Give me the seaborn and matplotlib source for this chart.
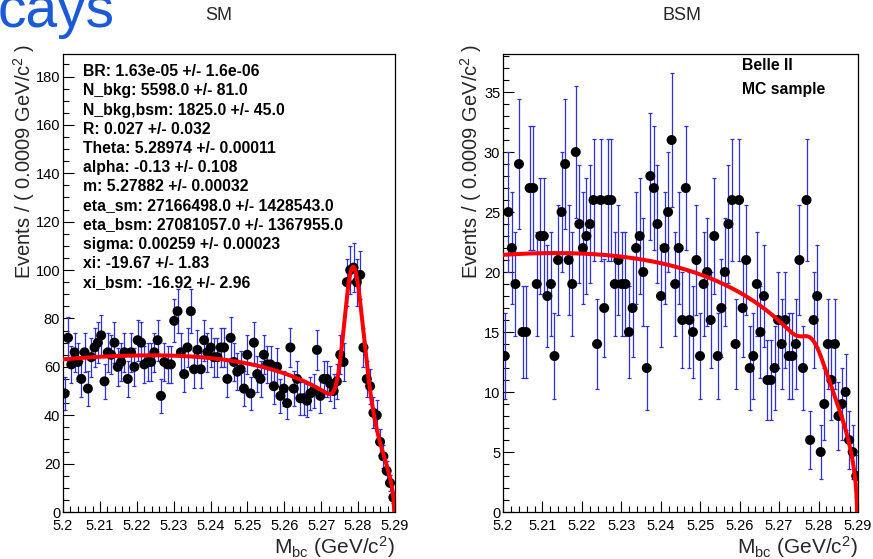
import numpy as np
import pandas as pd
import matplotlib
matplotlib.use("Agg")
import matplotlib.pyplot as plt
from matplotlib.ticker import FixedLocator, MultipleLocator
import seaborn as sns

# ---------------------------------------------------------------- binning
M_LO, M_HI, N_BINS = 5.2, 5.29, 100

# ---------------------------------------------------------------- data (events per bin)
sm_counts = [
    49, 72, 61, 66, 62, 55, 66, 51, 64, 68,
    70, 73, 54, 66, 65, 70, 60, 62, 66, 55,
    66, 60, 71, 70, 61, 62, 62, 66, 71, 48,
    62, 61, 61, 79, 83, 66, 57, 68, 83, 59,
    67, 59, 71, 66, 68, 64, 64, 68, 68, 55,
    72, 62, 58, 59, 51, 65, 49, 70, 57, 55,
    65, 61, 61, 52, 60, 48, 51, 45, 68, 51,
    55, 47, 47, 46, 49, 50, 67, 48, 55, 55,
    53, 50, 54, 65, 62, 95, 100, 101, 95, 98,
    68, 55, 52, 41, 40, 29, 23, 17, 12, 6,
]
bsm_counts = [
    13, 25, 22, 19, 29, 15, 15, 27, 27, 19,
    23, 23, 18, 19, 13, 21, 25, 29, 21, 19,
    30, 24, 22, 23, 24, 26, 14, 26, 17, 26,
    26, 19, 21, 19, 19, 15, 17, 22, 23, 20,
    12, 28, 27, 24, 18, 22, 25, 31, 19, 22,
    16, 27, 16, 15, 21, 13, 19, 20, 16, 23,
    13, 17, 20, 24, 26, 14, 26, 17, 21, 12,
    13, 19, 15, 18, 11, 11, 12, 16, 14, 16,
    13, 13, 14, 21, 12, 26, 6, 16, 18, 5,
    9, 14, 11, 14, 8, 9, 10, 6, 5, 3,
]

# ---------------------------------------------------------------- fit results
BR = 1.63e-05
N_BKG = 5598.0
N_BKG_BSM = 1825.0
R = 0.027
THETA = 5.28974
ALPHA = -0.13
M_PEAK = 5.27882
ETA_SM = 27166498.0
ETA_BSM = 27081057.0
SIGMA = 0.00259
XI = -19.67
XI_BSM = -16.92

fit_lines = [
    "BR: 1.63e-05 +/- 1.6e-06",
    "N_bkg: 5598.0 +/- 81.0",
    "N_bkg,bsm: 1825.0 +/- 45.0",
    "R: 0.027 +/- 0.032",
    "Theta: 5.28974 +/- 0.00011",
    "alpha: -0.13 +/- 0.108",
    "m: 5.27882 +/- 0.00032",
    "eta_sm: 27166498.0 +/- 1428543.0",
    "eta_bsm: 27081057.0 +/- 1367955.0",
    "sigma: 0.00259 +/- 0.00023",
    "xi: -19.67 +/- 1.83",
    "xi_bsm: -16.92 +/- 2.96",
]
label_lines = ["Belle II", "MC sample"]

x_ticks = [5.2, 5.21, 5.22, 5.23, 5.24, 5.25, 5.26, 5.27, 5.28, 5.29]
x_tick_labels = ["5.2", "5.21", "5.22", "5.23", "5.24", "5.25", "5.26", "5.27", "5.28", "5.29"]
sm_y_ticks = [0, 20, 40, 60, 80, 100, 120, 140, 160, 180]
bsm_y_ticks = [0, 5, 10, 15, 20, 25, 30, 35]


# ---------------------------------------------------------------- model shapes
def argus(x, m0, c):
    z = 1.0 - (x / m0) ** 2
    out = np.zeros_like(x)
    ok = z > 0
    out[ok] = x[ok] * np.sqrt(z[ok]) * np.exp(c * z[ok])
    return out


def novosibirsk(x, peak, width, tail):
    arg = 1.0 - (x - peak) * tail / width
    out = np.zeros_like(x)
    ok = arg > 1e-7
    lg = np.log(arg[ok])
    xi = 2.3548200450309494
    w0 = (2.0 / xi) * np.arcsinh(tail * xi * 0.5)
    w02 = w0 * w0
    out[ok] = np.exp(-0.5 / w02 * lg * lg - 0.5 * w02)
    return out


def expected_curve(x, n_bkg, c, n_sig):
    bw = (M_HI - M_LO) / N_BINS
    bkg = argus(x, THETA, c)
    bkg = bkg / np.trapezoid(bkg, x)
    sig = novosibirsk(x, M_PEAK, SIGMA, ALPHA)
    sig = sig / np.trapezoid(sig, x)
    return (n_bkg * bkg + n_sig * sig) * bw


edges = np.linspace(M_LO, M_HI, N_BINS + 1)
centers = 0.5 * (edges[:-1] + edges[1:])
x_fine = np.linspace(M_LO, M_HI, 3001)

sm_df = pd.DataFrame({"mbc": centers, "events": np.array(sm_counts, float)})
bsm_df = pd.DataFrame({"mbc": centers, "events": np.array(bsm_counts, float)})
sm_fit = pd.DataFrame({"mbc": x_fine,
                       "pdf": expected_curve(x_fine, N_BKG, XI, BR * ETA_SM)})
bsm_fit = pd.DataFrame({"mbc": x_fine,
                        "pdf": expected_curve(x_fine, N_BKG_BSM, XI_BSM, BR * R * ETA_BSM)})

# ---------------------------------------------------------------- style
sns.set_theme(style="white")
plt.rcParams["font.family"] = ["Liberation Sans", "DejaVu Sans"]
plt.rcParams["mathtext.fontset"] = "custom"
plt.rcParams["mathtext.rm"] = "Liberation Sans"
plt.rcParams["mathtext.it"] = "Liberation Sans"

W, H = 873, 559
fig = plt.figure(figsize=(W / 100, H / 100), dpi=100)
fig.patch.set_facecolor("white")

ax_sm = fig.add_axes([63 / W, 1 - 512 / H, 332 / W, 458 / H])
ax_bsm = fig.add_axes([503 / W, 1 - 512 / H, 355 / W, 458 / H])

ERR_BLUE = "#2f2fdc"


def draw_panel(ax, data, fit, ymax, yticks, yminor):
    ax.errorbar(data["mbc"], data["events"], yerr=np.sqrt(data["events"]),
                fmt="none", ecolor=ERR_BLUE, elinewidth=0.9, capsize=1.6,
                capthick=0.9, zorder=2)
    sns.scatterplot(data=data, x="mbc", y="events", ax=ax, color="black",
                    s=52, edgecolor="none", linewidth=0, zorder=3, legend=False)
    sns.lineplot(data=fit, x="mbc", y="pdf", ax=ax, color="#ff0000",
                 linewidth=2.9, zorder=4, legend=False)
    ax.set_xlim(M_LO, M_HI)
    ax.set_ylim(0, ymax)
    ax.xaxis.set_major_locator(FixedLocator(x_ticks))
    ax.set_xticklabels(x_tick_labels)
    ax.xaxis.set_minor_locator(MultipleLocator(0.002))
    ax.yaxis.set_major_locator(FixedLocator(yticks))
    ax.yaxis.set_minor_locator(MultipleLocator(yminor))
    ax.tick_params(which="both", direction="in", top=False, right=False,
                   bottom=True, left=True, colors="black", width=0.8)
    ax.tick_params(which="major", length=8, labelsize=10.5)
    ax.tick_params(which="minor", length=4)
    ax.tick_params(axis="x", pad=5)
    ax.tick_params(axis="y", pad=2)
    ax.set_xlabel("")
    ax.set_ylabel("")
    for sp in ax.spines.values():
        sp.set_visible(True)
        sp.set_color("black")
        sp.set_linewidth(0.9)
    ax.set_facecolor("white")


draw_panel(ax_sm, sm_df, sm_fit, 189.3, sm_y_ticks, 5)
draw_panel(ax_bsm, bsm_df, bsm_fit, 38.17, bsm_y_ticks, 1)

# fit-parameter box in the SM panel
for i, line in enumerate(fit_lines):
    fig.text(83 / W, 1 - (71.7 + 19.15 * i) / H, line, fontsize=11.3,
             fontweight="bold", ha="left", va="center", color="black")

for i, line in enumerate(label_lines):
    fig.text(742 / W, 1 - (66 + 24 * i) / H, line, fontsize=11.3,
             fontweight="bold", ha="left", va="center", color="black")

# pad titles
fig.text(219 / W, 1 - 16 / H, "SM", fontsize=13, ha="center", va="center")
fig.text(682 / W, 1 - 16 / H, "BSM", fontsize=13, ha="center", va="center")

# axis titles
ylab = r"Events / ( 0.0009 GeV/c$^2$ )"
xlab = r"M$_{\rm bc}$ (GeV/c$^2$)"
fig.text(24 / W, 1 - 44 / H, ylab, rotation=90, fontsize=14.5, ha="center", va="top")
fig.text(471 / W, 1 - 44 / H, ylab, rotation=90, fontsize=14.5, ha="center", va="top")
fig.text(395 / W, 1 - 547 / H, xlab, fontsize=15, ha="right", va="center")
fig.text(858 / W, 1 - 547 / H, xlab, fontsize=15, ha="right", va="center")

# slide heading fragment
fig.text(-2 / W, 1 - 27 / H, "cays", fontsize=41, color="#1a5ad7",
         ha="left", va="baseline")

fig.savefig("out.png", dpi=100, facecolor="white")
